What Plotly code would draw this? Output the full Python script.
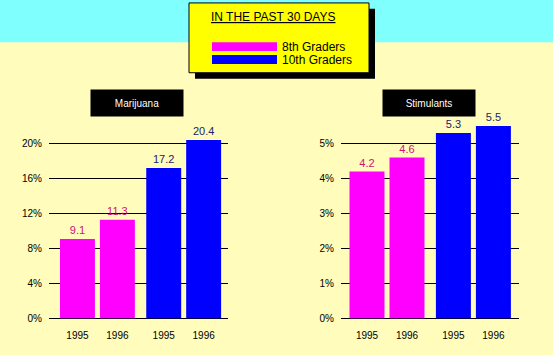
import plotly.graph_objects as go

# ---- data ----
years = ["1995", "1996"]
groups = ["8th Graders", "10th Graders"]
marijuana_8th = [9.1, 11.3]
marijuana_10th = [17.2, 20.4]
stimulants_8th = [4.2, 4.6]
stimulants_10th = [5.3, 5.5]
panel_titles = ["Marijuana", "Stimulants"]
legend_title = "IN THE PAST 30 DAYS"

# ---- styles ----
W, H = 553, 355
MAG = "#FF00FF"
BLUE = "#0000FF"
MAG_TXT = "#D0107A"
BLUE_TXT = "#22226A"
BG = "#FFFCBC"
CYAN = "#80FFFF"
FONT = "Liberation Sans, Arial, sans-serif"

GROUP_GAP = 1.16   # spacing between the two year-bars across groups (layout)
BAR_W = 0.875

def px_x(p):
    return p / W

def px_y(p):
    return (H - p) / H

fig = go.Figure()

panels = [
    dict(v8=marijuana_8th, v10=marijuana_10th, xa="x", ya="y", dtick=4,
         yrange=[0, 22], xrange=[-0.7125, 3.77], dom=[49, 228], ytop=128.2),
    dict(v8=stimulants_8th, v10=stimulants_10th, xa="x2", ya="y2", dtick=1,
         yrange=[0, 5.7], xrange=[-0.65, 3.80], dom=[341, 519], ytop=121.1),
]

tickvals = [i for i in range(len(years))] + [1 + GROUP_GAP + i for i in range(len(years))]
ticktext = years + years

for i, p in enumerate(panels):
    x8 = [k for k in range(len(years))]
    x10 = [1 + GROUP_GAP + k for k in range(len(years))]
    fig.add_trace(go.Bar(
        x=x8, y=p["v8"], width=BAR_W, marker=dict(color=MAG, line=dict(width=0)),
        text=[f"{v:.1f}" for v in p["v8"]], textposition="outside",
        textfont=dict(color=MAG_TXT, size=11, family=FONT), cliponaxis=False,
        xaxis=p["xa"], yaxis=p["ya"], name=groups[0], showlegend=False))
    fig.add_trace(go.Bar(
        x=x10, y=p["v10"], width=BAR_W, marker=dict(color=BLUE, line=dict(width=0)),
        text=[f"{v:.1f}" for v in p["v10"]], textposition="outside",
        textfont=dict(color=BLUE_TXT, size=11, family=FONT), cliponaxis=False,
        xaxis=p["xa"], yaxis=p["ya"], name=groups[1], showlegend=False))

    suffix = "" if i == 0 else "2"
    fig.layout["xaxis" + suffix] = dict(
        domain=[px_x(p["dom"][0]), px_x(p["dom"][1])], range=p["xrange"],
        tickvals=tickvals, ticktext=ticktext, showgrid=False, zeroline=False,
        showline=False, ticks="outside", ticklen=7, tickcolor="rgba(0,0,0,0)",
        tickfont=dict(size=10, family=FONT, color="black"),
        anchor="y" + suffix, fixedrange=True)
    fig.layout["yaxis" + suffix] = dict(
        domain=[px_y(324), px_y(p["ytop"])], range=p["yrange"], dtick=p["dtick"],
        tick0=0, ticksuffix="%", showgrid=True, gridcolor="black", gridwidth=1,
        zeroline=True, zerolinecolor="black", zerolinewidth=1, showline=False,
        ticks="", ticklabelstandoff=6,
        tickfont=dict(size=10, family=FONT, color="black"),
        anchor="x" + suffix, fixedrange=True)

shapes = [
    # cyan top band
    dict(type="rect", xref="paper", yref="paper", x0=0, x1=1, y0=px_y(43), y1=1,
         fillcolor=CYAN, line=dict(width=0), layer="below"),
    # legend box shadow
    dict(type="rect", xref="paper", yref="paper", x0=px_x(195), x1=px_x(375),
         y0=px_y(80), y1=px_y(9), fillcolor="black", line=dict(width=0)),
    # legend box
    dict(type="rect", xref="paper", yref="paper", x0=px_x(189), x1=px_x(369),
         y0=px_y(74), y1=px_y(3), fillcolor="#FFFF00", line=dict(color="black", width=1)),
    # legend swatches
    dict(type="rect", xref="paper", yref="paper", x0=px_x(212), x1=px_x(277),
         y0=px_y(52), y1=px_y(43), fillcolor=MAG, line=dict(width=0)),
    dict(type="rect", xref="paper", yref="paper", x0=px_x(212), x1=px_x(277),
         y0=px_y(65), y1=px_y(56), fillcolor=BLUE, line=dict(width=0)),
]

annotations = [
    dict(text="<u>" + legend_title + "</u>", xref="paper", yref="paper",
         x=px_x(209), y=px_y(17), xanchor="left", yanchor="middle", showarrow=False,
         font=dict(size=12, family=FONT, color="black")),
    dict(text=groups[0], xref="paper", yref="paper", x=px_x(280), y=px_y(47.5),
         xanchor="left", yanchor="middle", showarrow=False,
         font=dict(size=12, family=FONT, color="black")),
    dict(text=groups[1], xref="paper", yref="paper", x=px_x(280), y=px_y(61),
         xanchor="left", yanchor="middle", showarrow=False,
         font=dict(size=12, family=FONT, color="black")),
    dict(text=panel_titles[0], xref="paper", yref="paper", x=px_x(137), y=px_y(105),
         xanchor="center", yanchor="middle", showarrow=False, width=90, height=24,
         bgcolor="black", font=dict(size=10, family=FONT, color="white")),
    dict(text=panel_titles[1], xref="paper", yref="paper", x=px_x(429), y=px_y(105),
         xanchor="center", yanchor="middle", showarrow=False, width=90, height=24,
         bgcolor="black", font=dict(size=10, family=FONT, color="white")),
]

fig.update_layout(
    width=W, height=H, margin=dict(l=0, r=0, t=0, b=0),
    paper_bgcolor=BG, plot_bgcolor="rgba(0,0,0,0)",
    shapes=shapes, annotations=annotations, barmode="overlay",
    showlegend=False, font=dict(family=FONT),
)

fig.write_html(
    "out.html", config={"displayModeBar": False},
    post_script=("document.documentElement.style.margin='0';"
                 "document.body.style.margin='0';document.body.style.padding='0';"
                 "document.body.style.overflow='hidden';"
                 "document.documentElement.style.overflow='hidden';"))
